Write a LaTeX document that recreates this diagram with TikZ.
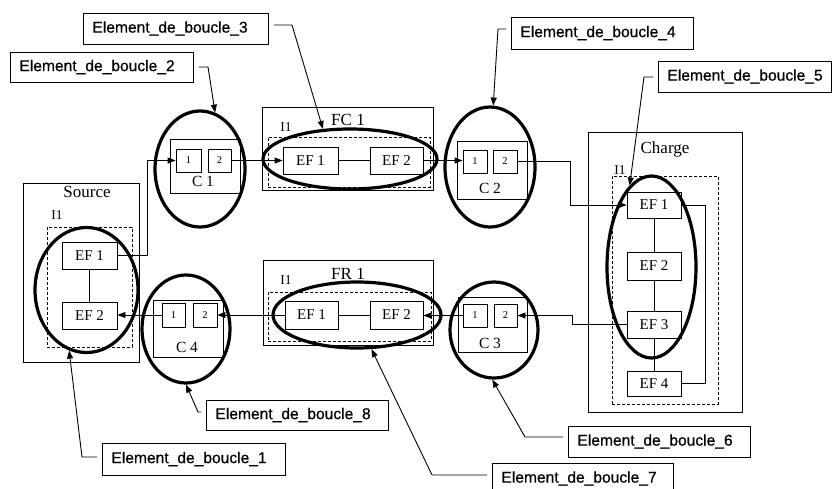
\documentclass[tikz,border=0pt]{standalone}
\usepackage{fontspec}
\setmainfont{Liberation Serif}
\newfontfamily\lblfont[FakeBold=0.6]{Liberation Sans}
\usetikzlibrary{arrows.meta,shapes.geometric}
\begin{document}
\begin{tikzpicture}[x=1pt,y=-1pt,
 box/.style={draw, line width=0.9pt, inner sep=0pt},
 dbox/.style={draw, line width=0.9pt, dash pattern=on 3pt off 2pt, inner sep=0pt},
 ef/.style={draw, fill=white, line width=0.9pt, inner sep=0pt, font=\fontsize{15}{17}\selectfont},
 sq/.style={draw, fill=white, line width=0.9pt, inner sep=0pt, font=\fontsize{10.5}{12}\selectfont},
 ttl/.style={inner sep=0pt, font=\fontsize{17}{20}\selectfont},
 itl/.style={inner sep=0pt, font=\fontsize{13.5}{15}\selectfont},
 ctl/.style={inner sep=0pt, font=\fontsize{15.5}{18}\selectfont},
 loope/.style={draw, ellipse, line width=3.2pt, inner sep=0pt},
 lab/.style={draw, fill=white, line width=0.9pt, inner xsep=9pt, inner ysep=0pt, align=left, anchor=west, font=\lblfont\fontsize{15.6}{18}\selectfont},
 conn/.style={line width=0.9pt},
 arr/.style={conn, -{Triangle[length=8pt,width=6pt]}},
 larr/.style={conn, shorten <=5pt, -{Triangle[length=8pt,width=6pt]}},
]
\useasboundingbox (0,0) rectangle (832,488);

% ---------- Source ----------
\node[box, minimum width=116, minimum height=179] (SRC) at (81,272.5) {};
\node[dbox, minimum width=85, minimum height=120] (SRCd) at (89.5,287) {};
\node[ttl] (tSRC) at (87,192) {Source};
\node[itl] (iSRC) at (57,215) {I1};
\node[ef, minimum width=55, minimum height=27] (S1) at (89.5,255.5) {EF 1};
\node[ef, minimum width=55, minimum height=27] (S2) at (89.5,315.5) {EF 2};

% ---------- C1 ----------
\node[box, minimum width=70, minimum height=54] (C1) at (205,166) {};
\node[sq, minimum width=25, minimum height=23] (C1a) at (188.5,160.5) {1};
\node[sq, minimum width=23, minimum height=23] (C1b) at (219.5,160.5) {2};
\node[ctl] (tC1) at (203,181) {C 1};

% ---------- FC1 ----------
\node[box, minimum width=171, minimum height=83] (FC) at (347.5,148.5) {};
\node[dbox, minimum width=162, minimum height=50] (FCd) at (349,162) {};
\node[ttl] (tFC) at (348,120) {FC 1};
\node[itl] (iFC) at (286,127) {I1};
\node[ef, minimum width=55, minimum height=27] (F1) at (310.5,160.5) {EF 1};
\node[ef, minimum width=53, minimum height=27] (F2) at (396.5,160.5) {EF 2};

% ---------- C2 ----------
\node[box, minimum width=70, minimum height=58] (C2) at (492,170) {};
\node[sq, minimum width=24, minimum height=23] (C2a) at (475,161.5) {1};
\node[sq, minimum width=24, minimum height=23] (C2b) at (505,161.5) {2};
\node[ctl] (tC2) at (490,188) {C 2};

% ---------- Charge ----------
\node[box, minimum width=154, minimum height=280] (CH) at (665,272) {};
\node[dbox, minimum width=106, minimum height=228] (CHd) at (665,290) {};
\node[ttl] (tCH) at (665,149) {Charge};
\node[itl] (iCH) at (620,170) {I1};
\node[ef, minimum width=54, minimum height=26] (H1) at (654,205) {EF 1};
\node[ef, minimum width=54, minimum height=28] (H2) at (654,266) {EF 2};
\node[ef, minimum width=54, minimum height=27] (H3) at (654,324.5) {EF 3};
\node[ef, minimum width=54, minimum height=25] (H4) at (654,383.5) {EF 4};

% ---------- FR1 ----------
\node[box, minimum width=170, minimum height=85] (FR) at (348,302.5) {};
\node[dbox, minimum width=163, minimum height=49] (FRd) at (349.5,316.5) {};
\node[ttl] (tFR) at (348,274) {FR 1};
\node[itl] (iFR) at (286,280) {I1};
\node[ef, minimum width=53, minimum height=28] (R1) at (311.5,315) {EF 1};
\node[ef, minimum width=53, minimum height=28] (R2) at (396.5,315) {EF 2};

% ---------- C3 ----------
\node[box, minimum width=69, minimum height=55] (C3) at (492.5,324.5) {};
\node[sq, minimum width=24, minimum height=23] (C3a) at (475,315.5) {1};
\node[sq, minimum width=23, minimum height=23] (C3b) at (505.5,315.5) {2};
\node[ctl] (tC3) at (490,343) {C 3};

% ---------- C4 ----------
\node[box, minimum width=70, minimum height=57] (C4) at (188,328.5) {};
\node[sq, minimum width=23, minimum height=24] (C4a) at (173.5,315) {1};
\node[sq, minimum width=24, minimum height=24] (C4b) at (205,315) {2};
\node[ctl] (tC4) at (187,347) {C 4};

% ---------- connectors ----------
\draw[conn] (S1) -- (S2);
\draw[arr] (S1.east) -- ++(30,0) |- (C1a.west);
\draw[arr] (C1b.east) -- (F1.west);
\draw[conn] (F1.east) -- (F2.west);
\draw[arr] (F2.east) -- (F2.east -| C2a.west);
\draw[arr] (C2b.east) -- ++(53,0) |- (H1.west);
\draw[conn] (H1) -- (H2);
\draw[conn] (H2) -- (H3);
\draw[conn] (H3) -- (H4);
\draw[conn] (H1.east) -- ++(24,0) |- (H4.east);
\draw[arr] (H3.west) -- ++(-54,0) |- (C3b.east);
\draw[arr] (C3a.west) -- (C3a.west -| R2.east);
\draw[conn] (R1.east) -- (R2.west);
\draw[arr] (R1.west) -- (R1.west -| C4b.east);
\draw[arr] (C4a.west) -- (C4a.west -| S2.east);

% ---------- loop ellipses ----------
\node[loope, minimum width=103, minimum height=125] (L1) at (86.5,290) {};
\node[loope, minimum width=90, minimum height=116] (L2) at (200,169) {};
\node[loope, minimum width=174, minimum height=60] (L3) at (350,159) {};
\node[loope, minimum width=90, minimum height=120] (L4) at (490,167) {};
\node[loope, minimum width=89, minimum height=182] (L5) at (651.5,267) {};
\node[loope, minimum width=88, minimum height=96] (L6) at (494,330) {};
\node[loope, minimum width=168, minimum height=66] (L7) at (357,315) {};
\node[loope, minimum width=88, minimum height=108] (L8) at (186,329) {};

% ---------- labels ----------
\node[lab, text width=165, minimum height=32] (B1) at (102,459) {Element\_de\_boucle\_1};
\node[lab, text width=165, minimum height=30] (B2) at (10,67) {Element\_de\_boucle\_2};
\node[lab, text width=167, minimum height=31] (B3) at (83,28.5) {Element\_de\_boucle\_3};
\node[lab, text width=164, minimum height=32] (B4) at (511,33) {Element\_de\_boucle\_4};
\node[lab, text width=155, minimum height=31] (B5) at (658,76.5) {Element\_de\_boucle\_5};
\node[lab, text width=164, minimum height=31] (B6) at (568,441.5) {Element\_de\_boucle\_6};
\node[lab, text width=163, minimum height=31] (B7) at (492,478.5) {Element\_de\_boucle\_7};
\node[lab, text width=164, minimum height=30] (B8) at (206,415) {Element\_de\_boucle\_8};

\coordinate (k1) at (82,457);
\coordinate (k2) at (208,67);
\coordinate (k3) at (292,25);
\coordinate (k4) at (498,29);
\coordinate (k5) at (644,77);
\coordinate (k6) at (525,437);
\coordinate (k7) at (432,475);
\coordinate (k8) at (198,412);

\draw[larr] (B1.west |- k1) -- (k1) -- (L1.-106);
\draw[larr] (B2.east |- k2) -- (k2) -- (L2.75);
\draw[larr] (B3.east |- k3) -- (k3) -- (L3.132);
\draw[larr] (B4.west |- k4) -- (k4) -- (L4.87);
\draw[larr] (B5.west |- k5) -- (k5) -- (L5.105);
\draw[larr] (B6.west |- k6) -- (k6) -- (L6.-92);
\draw[larr] (B7.west |- k7) -- (k7) -- (L7.-67);
\draw[larr] (B8.west |- k8) -- (k8) -- (L8.-90);
\end{tikzpicture}
\end{document}
